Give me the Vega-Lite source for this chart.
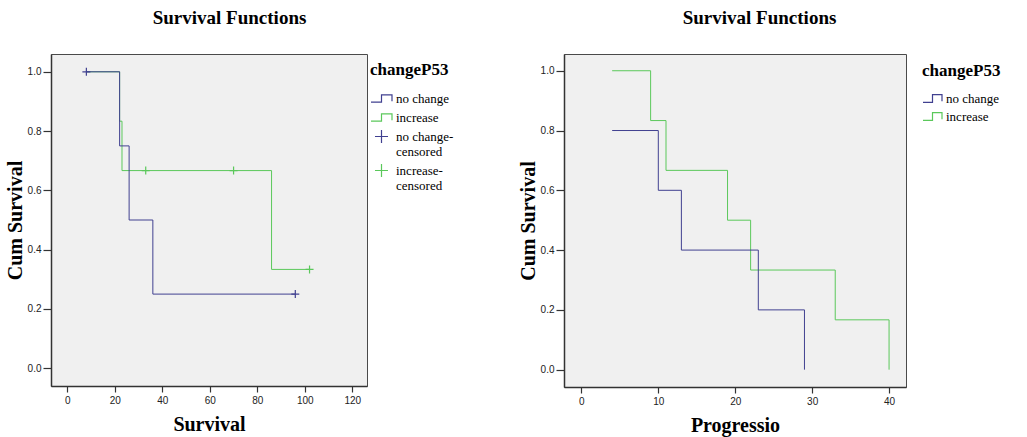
{
  "$schema": "https://vega.github.io/schema/vega-lite/v6.json",
  "background": "white",
  "padding": {"left": 4, "top": 8, "right": 2, "bottom": 2},
  "spacing": 62,
  "datasets": {
    "leftCurves": [
      {"group": "increase", "time": 8, "surv": 1.0},
      {"group": "increase", "time": 22, "surv": 0.8333},
      {"group": "increase", "time": 23, "surv": 0.6667},
      {"group": "increase", "time": 86, "surv": 0.3333},
      {"group": "increase", "time": 102, "surv": 0.3333},
      {"group": "no change", "time": 8, "surv": 1.0},
      {"group": "no change", "time": 22, "surv": 0.75},
      {"group": "no change", "time": 26, "surv": 0.5},
      {"group": "no change", "time": 36, "surv": 0.25},
      {"group": "no change", "time": 96, "surv": 0.25}
    ],
    "leftCensored": [
      {"group": "no change-censored", "time": 8, "surv": 1.0},
      {"group": "no change-censored", "time": 96, "surv": 0.25},
      {"group": "increase-censored", "time": 33, "surv": 0.6667},
      {"group": "increase-censored", "time": 70, "surv": 0.6667},
      {"group": "increase-censored", "time": 102, "surv": 0.3333}
    ],
    "rightCurves": [
      {"group": "increase", "time": 4, "surv": 1.0},
      {"group": "increase", "time": 9, "surv": 0.8333},
      {"group": "increase", "time": 11, "surv": 0.6667},
      {"group": "increase", "time": 19, "surv": 0.5},
      {"group": "increase", "time": 22, "surv": 0.3333},
      {"group": "increase", "time": 33, "surv": 0.1667},
      {"group": "increase", "time": 40, "surv": 0.0},
      {"group": "no change", "time": 4, "surv": 0.8},
      {"group": "no change", "time": 10, "surv": 0.6},
      {"group": "no change", "time": 13, "surv": 0.4},
      {"group": "no change", "time": 23, "surv": 0.2},
      {"group": "no change", "time": 29, "surv": 0.0}
    ]
  },
  "config": {
    "view": {"fill": "#F0F0F0", "stroke": "#4A4A4A", "strokeWidth": 1},
    "title": {"font": "Liberation Serif", "fontSize": 19, "fontWeight": "bold", "color": "#000000", "anchor": "middle", "frame": "bounds", "offset": 26},
    "axis": {
      "labelFont": "Liberation Sans", "labelFontSize": 10, "labelColor": "#222222",
      "domainColor": "#333333", "domainWidth": 1.5, "tickColor": "#333333", "tickWidth": 1.2,
      "grid": false,
      "titleFont": "Liberation Serif", "titleFontSize": 20, "titleFontWeight": "bold", "titleColor": "#000000"
    },
    "axisY": {"tickSize": 8, "labelPadding": 2, "titlePadding": 2},
    "axisX": {"tickSize": 6, "labelPadding": 3, "titlePadding": 9},
    "legend": {
      "titleFont": "Liberation Serif", "titleFontSize": 17, "titleFontWeight": "bold", "titleColor": "#000000",
      "labelFont": "Liberation Serif", "labelFontSize": 13, "labelColor": "#000000",
      "padding": 0, "labelOffset": 3, "labelLimit": 200, "rowPadding": 0, "titlePadding": 8,
      "symbolStrokeWidth": 1.2, "symbolOpacity": 1, "symbolFillColor": "transparent"
    }
  },
  "resolve": {
    "scale": {"color": "independent", "shape": "independent", "x": "independent", "y": "independent"},
    "legend": {"color": "independent", "shape": "independent"}
  },
  "hconcat": [
    {
      "title": "Survival Functions",
      "width": 316,
      "height": 332,
      "layer": [
        {
          "data": {"name": "leftCurves"},
          "mark": {"type": "line", "interpolate": "step-after", "strokeWidth": 1},
          "encoding": {
            "x": {"field": "time", "type": "quantitative", "scale": {"domain": [-6.9, 126.2], "nice": false, "zero": false}, "axis": {"values": [0, 20, 40, 60, 80, 100, 120], "title": "Survival"}},
            "y": {"field": "surv", "type": "quantitative", "scale": {"domain": [-0.06, 1.06], "nice": false, "zero": false}, "axis": {"values": [0, 0.2, 0.4, 0.6, 0.8, 1.0], "format": ".1f", "title": "Cum Survival"}},
            "color": {
              "field": "group", "type": "nominal",
              "scale": {"domain": ["no change", "increase", "no change-censored", "increase-censored"], "range": ["#404090", "#5BC85B", "#404090", "#5BC85B"]},
              "legend": {"title": "changeP53", "orient": "none", "legendX": 319, "legendY": 8, "symbolSize": 441,
                "labelExpr": "datum.label == 'no change-censored' ? ['no change-', 'censored'] : datum.label == 'increase-censored' ? ['increase-', 'censored'] : datum.label"}
            }
          }
        },
        {
          "data": {"name": "leftCensored"},
          "mark": {"type": "point", "filled": false, "strokeWidth": 1.2, "size": 166, "opacity": 1},
          "encoding": {
            "x": {"field": "time", "type": "quantitative"},
            "y": {"field": "surv", "type": "quantitative"},
            "color": {"field": "group", "type": "nominal"},
            "shape": {
              "field": "group", "type": "nominal",
              "scale": {"domain": ["no change", "increase", "no change-censored", "increase-censored"], "range": ["M-1,0.35H0V-0.35H1V0.25", "M-1,0.35H0V-0.35H1V0.25", "M-0.62,0H0.62M0,-0.62V0.62", "M-0.62,0H0.62M0,-0.62V0.62"]},
              "legend": {"title": "changeP53", "orient": "none", "legendX": 319, "legendY": 8, "symbolSize": 441,
                "labelExpr": "datum.label == 'no change-censored' ? ['no change-', 'censored'] : datum.label == 'increase-censored' ? ['increase-', 'censored'] : datum.label"}
            }
          }
        }
      ]
    },
    {
      "title": "Survival Functions",
      "width": 342,
      "height": 333,
      "data": {"name": "rightCurves"},
      "mark": {"type": "line", "interpolate": "step-after", "strokeWidth": 1},
      "encoding": {
        "x": {"field": "time", "type": "quantitative", "scale": {"domain": [-2.26, 42.2], "nice": false, "zero": false}, "axis": {"values": [0, 10, 20, 30, 40], "title": "Progressio"}},
        "y": {"field": "surv", "type": "quantitative", "scale": {"domain": [-0.058, 1.056], "nice": false, "zero": false}, "axis": {"values": [0, 0.2, 0.4, 0.6, 0.8, 1.0], "format": ".1f", "title": "Cum Survival"}},
        "color": {
          "field": "group", "type": "nominal",
          "scale": {"domain": ["no change", "increase"], "range": ["#404090", "#5BC85B"]},
          "legend": {"title": "changeP53", "orient": "none", "legendX": 358, "legendY": 9, "symbolSize": 361, "symbolType": "M-1,0.4H0V-0.4H1V0.3", "rowPadding": 0}
        }
      }
    }
  ]
}
